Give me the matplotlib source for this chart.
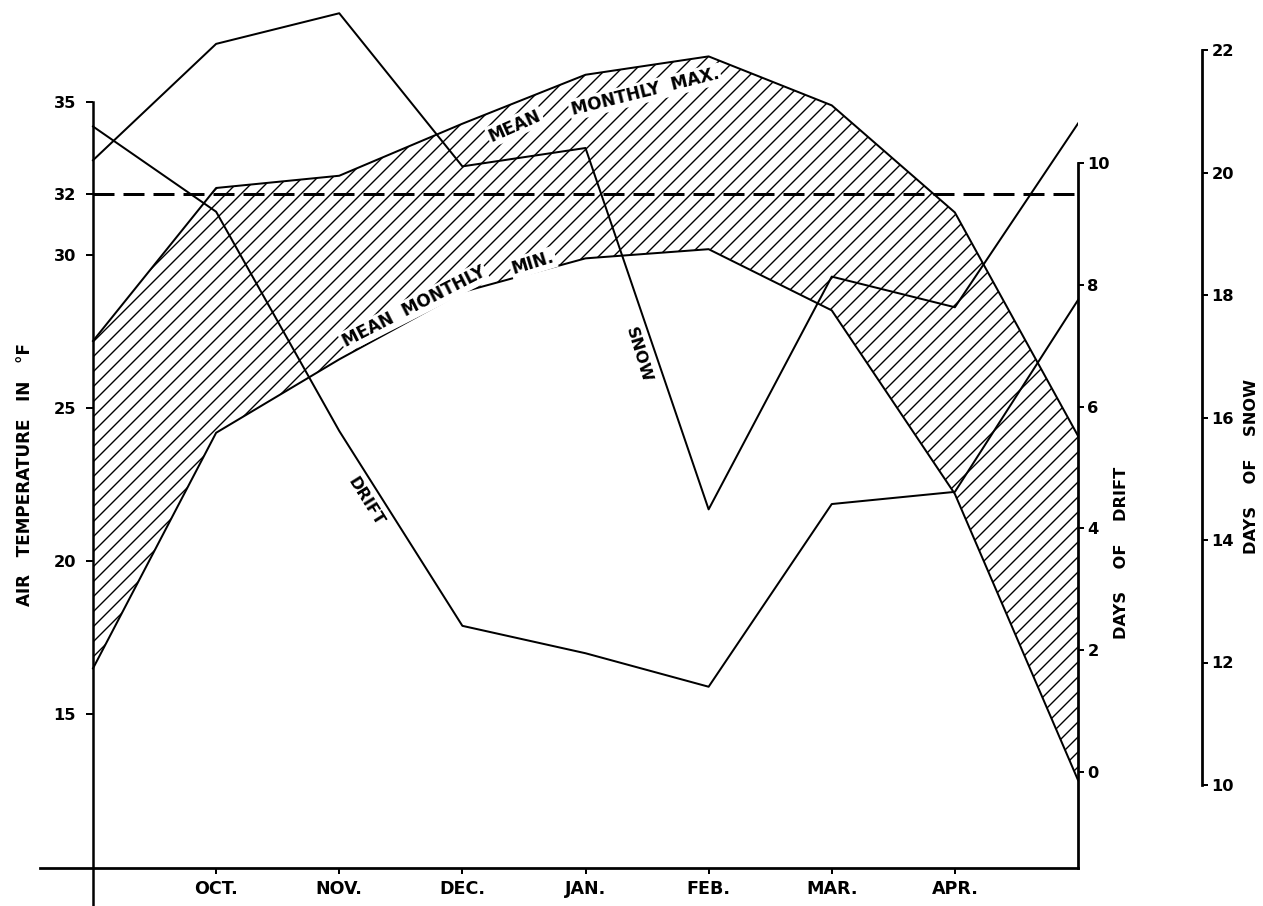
import matplotlib
matplotlib.use("Agg")
import matplotlib.pyplot as plt

plt.rcParams['font.family'] = ['DejaVu Sans']
plt.rcParams['hatch.linewidth'] = 1.1

# ---------------- data ----------------
month_pos = [0, 1, 2, 3, 4, 5, 6, 7, 8]          # SEP ... MAY
tick_pos = [1, 2, 3, 4, 5, 6, 7]
tick_months = ['OCT.', 'NOV.', 'DEC.', 'JAN.', 'FEB.', 'MAR.', 'APR.']

temp_max = [27.2, 32.2, 32.6, 34.3, 35.9, 36.5, 34.9, 31.4, 24.1]
temp_min = [16.5, 24.2, 26.6, 28.8, 29.9, 30.2, 28.2, 22.2, 12.85]
drift_days = [10.6, 9.2, 5.6, 2.4, 1.95, 1.4, 4.4, 4.6, 7.75]
snow_days = [20.2, 22.1, 22.6, 20.1, 20.4, 14.5, 18.3, 17.8, 20.8]
freezing = 32

temp_ticks = [15, 20, 25, 30, 32, 35]
drift_ticks = [0, 2, 4, 6, 8, 10]
snow_ticks = [10, 12, 14, 16, 18, 20, 22]

# ---------------- layout (pixels) ----------------
DPI = 90
W, H = 1263, 906
AX_L, AX_R, AX_T, AX_B = 40, 1078, 5, 868
X0_PX, DX_PX = 93, 123.125            # month 0 position, px per month
T_REF_PX, T_REF, T_PX = 408.3, 25, 30.6
D0_PX, D_PX = 772, 60.9
S10_PX, S_PX = 785, 61.25
SNOW_AX_PX = 1202

def t_at(py):
    return T_REF + (T_REF_PX - py) / T_PX

fig = plt.figure(figsize=(W / DPI, H / DPI), dpi=DPI)
ax = fig.add_axes([AX_L / W, 1 - AX_B / H, (AX_R - AX_L) / W, (AX_B - AX_T) / H])
ax.set_xlim((AX_L - X0_PX) / DX_PX, (AX_R - X0_PX) / DX_PX)
ax.set_ylim(t_at(AX_B), t_at(AX_T))
ax.patch.set_visible(False)

ax2 = ax.twinx()
ax2.set_ylim((D0_PX - AX_B) / D_PX, (D0_PX - AX_T) / D_PX)
ax3 = ax.twinx()
ax3.set_ylim(10 + (S10_PX - AX_B) / S_PX, 10 + (S10_PX - AX_T) / S_PX)

FS = 13
WT = 'bold'

# temperature band
ax.fill_between(month_pos, temp_min, temp_max, facecolor='none',
                edgecolor='black', hatch='//', linewidth=0, zorder=1)
ax.plot(month_pos, temp_max, color='black', lw=1.6, zorder=2)
ax.plot(month_pos, temp_min, color='black', lw=1.6, zorder=2)
ax.hlines(freezing, 0, 8, colors='black', linestyles=(0, (7, 3)), lw=2.4, zorder=2)

# drift and snow
ax2.plot(month_pos, drift_days, color='black', lw=1.6)
ax3.plot(month_pos, snow_days, color='black', lw=1.6)

# spines
for s in ['top', 'right']:
    ax.spines[s].set_visible(False)
ax.spines['left'].set_position(('data', 0))
ax.spines['left'].set_bounds(t_at(H), 35)
ax.spines['left'].set_linewidth(2)
ax.spines['bottom'].set_linewidth(2.2)

for a in (ax2, ax3):
    for s in ['top', 'left', 'bottom']:
        a.spines[s].set_visible(False)
    a.spines['right'].set_linewidth(2.2)
ax2.spines['right'].set_bounds((D0_PX - AX_B) / D_PX, 10)
ax3.spines['right'].set_position(('axes', (SNOW_AX_PX - AX_L) / (AX_R - AX_L)))
ax3.spines['right'].set_bounds(10, 22)

# ticks
ax.set_yticks(temp_ticks)
ax.set_yticklabels([str(t) for t in temp_ticks])
ax.tick_params(axis='y', direction='out', length=5.6, width=1.6, pad=8,
               labelsize=FS)
ax.set_xticks(tick_pos)
ax.set_xticklabels(tick_months)
ax.tick_params(axis='x', direction='out', length=4.5, width=1.6, pad=5.5,
               labelsize=FS + 1)
ax2.set_yticks(drift_ticks)
ax2.tick_params(axis='y', direction='out', length=4.5, width=1.6, pad=3,
                labelsize=FS)
ax3.set_yticks(snow_ticks)
ax3.tick_params(axis='y', direction='out', length=4.5, width=1.6, pad=3,
                labelsize=FS)
for a in (ax, ax2, ax3):
    for lbl in a.get_xticklabels() + a.get_yticklabels():
        lbl.set_fontweight(WT)

# curve labels
box = dict(facecolor='white', edgecolor='none', pad=1.5)
def px2data(px, py):
    return (px - X0_PX) / DX_PX, t_at(py)

for txt, (px, py), rot in [("MEAN", (515, 126), 24),
                           ("MONTHLY  MAX.", (645, 92), 14),
                           ("MEAN  MONTHLY", (414, 307), 27),
                           ("MIN.", (533, 263), 17)]:
    x, y = px2data(px, py)
    ax.text(x, y, txt, rotation=rot, ha='center', va='center', fontsize=FS + 0.5,
            fontweight=WT, bbox=box, zorder=3, rotation_mode='anchor')

x, y = px2data(366, 502)
ax.text(x, y, "DRIFT", rotation=-58, ha='center', va='center', fontsize=FS,
        fontweight=WT, rotation_mode='anchor')
x, y = px2data(639, 355)
ax.text(x, y, "SNOW", rotation=-73, ha='center', va='center', fontsize=FS,
        fontweight=WT, rotation_mode='anchor')

# axis titles
fig.text(25 / W, 1 - 475 / H, "AIR   TEMPERATURE   IN   \u00b0F", rotation=90,
         ha='center', va='center', fontsize=FS + 0.5, fontweight=WT)
fig.text(1122 / W, 1 - 553 / H, "DAYS    OF    DRIFT", rotation=90,
         ha='center', va='center', fontsize=FS, fontweight=WT)
fig.text(1252 / W, 1 - 467 / H, "DAYS    OF    SNOW", rotation=90,
         ha='center', va='center', fontsize=FS, fontweight=WT)

fig.savefig("out.png", dpi=DPI, facecolor='white')
